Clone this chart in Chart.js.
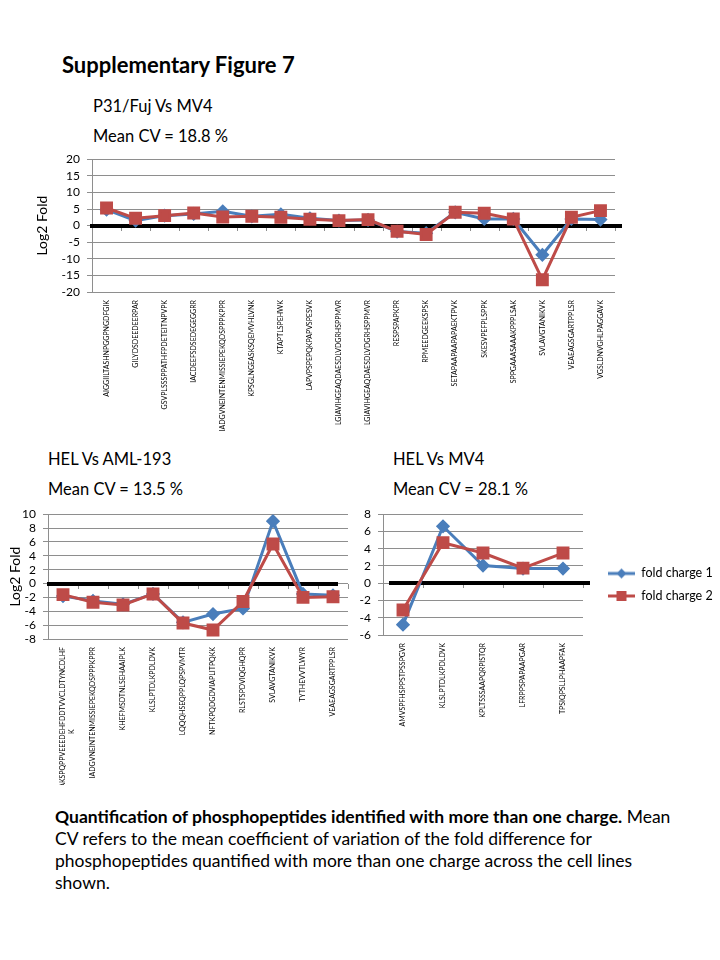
<!DOCTYPE html>
<html>
<head>
<meta charset="utf-8">
<script src="https://cdn.jsdelivr.net/npm/chart.js@4.4.1/dist/chart.umd.min.js"></script>
<style>
  body { margin: 0; background: #fff; }
  #page { position: relative; width: 720px; height: 960px; overflow: hidden; font-family: Lato, "Open Sans", sans-serif; color: #000; }
  .txt { position: absolute; white-space: nowrap; line-height: 1; }
  .box { position: absolute; }
  .cap { position: absolute; left: 55px; top: 806px; font-size: 17.5px; line-height: 22px; white-space: nowrap; }
</style>
</head>
<body>
<div id="page">
  <div class="txt" style="left:62px;top:54px;font-size:22px;font-weight:bold;">Supplementary Figure 7</div>
  <div class="txt" style="left:93px;top:98px;font-size:16.5px;">P31/Fuj Vs MV4</div>
  <div class="txt" style="left:93px;top:128px;font-size:16.5px;">Mean CV = 18.8 %</div>
  <div class="txt" style="left:48px;top:451px;font-size:16.5px;">HEL Vs AML-193</div>
  <div class="txt" style="left:48px;top:481px;font-size:16.5px;">Mean CV = 13.5 %</div>
  <div class="txt" style="left:393px;top:451px;font-size:16.5px;">HEL Vs MV4</div>
  <div class="txt" style="left:393px;top:481px;font-size:16.5px;">Mean CV = 28.1 %</div>

  <div class="box" style="left:20px;top:145px;"><canvas id="topChart" width="620" height="295"></canvas></div>
  <div class="box" style="left:0px;top:500px;"><canvas id="amlChart" width="360" height="285"></canvas></div>
  <div class="box" style="left:360px;top:500px;"><canvas id="mv4Chart" width="400" height="230"></canvas></div>

  <div class="cap"><b>Quantification of phosphopeptides identified with more than one charge.</b> Mean<br>CV refers to the mean coefficient of variation of the fold difference for<br>phosphopeptides quantified with more than one charge across the cell lines<br>shown.</div>
</div>
<script>
// P31/Fuj vs MV4
const topLabels = ['AIGGIILTASHNPGGPNGDFGIK', 'GILYDSDEEDEERPAR', 'GSVPLSSSPPATHFPDETEITNPVPK',
  'IACDEEFSDSEDEGEGGRR', 'IADGVNEINTENMISSIEPEKQDSPPPKPPR', 'KPSGLNGEASKSQEMVHLVNK', 'KTAPTLSPEHWK',
  'LAPVPSPEPQKPAPVSPESVK', 'LGIAVIHGEAQDAESDLVDGRHSPPMVR', 'LGIAVIHGEAQDAESDLVDGRHSPPMVR', 'RESPSPAPKPR',
  'RPMEEDGEEKSPSK', 'SETAPAAPAAPAPAEKTPVK', 'SKESVPEFPLSPPK', 'SPPGAAASAAAKPPPLSAK', 'SVLAVGTANIKVK',
  'VEAEAGSGARTPPLSR', 'VGSLDNVGHLPAGGAVK'];
const topCharge1 = [4.8, 1.5, 3.0, 3.5, 4.3, 2.8, 3.4, 2.2, 1.5, 1.7, -1.8, -2.3, 4.0, 2.0, 2.0, -8.8, 2.0, 1.8];
const topCharge2 = [5.3, 2.2, 3.0, 3.8, 2.6, 2.8, 2.5, 1.9, 1.5, 1.8, -1.7, -2.7, 4.0, 3.7, 2.0, -16.3, 2.5, 4.5];

// HEL vs AML-193
const amlLabels = [['AKSPQPPVEEEDEHFDDTVVCLDTYNCDLHF', 'K' + ' '.repeat(46)], 'IADGVNEINTENMISSIEPEKQDSPPPKPPR',
  'KHEFMSDTNLSEHAAIPLK', 'KLSLPTDLKPDLDVK', 'LQQQHSEQPPLQPSPVMTR', 'NFTKPQDGDVIAPLITPQKK', 'RLSTSPDVIQGHQPR',
  'SVLAVGTANIKVK', 'TYTHEVVTLWYR', 'VEAEAGSGARTPPLSR'];
const amlCharge1 = [-1.8, -2.5, -3.0, -1.5, -5.6, -4.4, -3.6, 9.0, -1.5, -1.7];
const amlCharge2 = [-1.6, -2.7, -3.1, -1.5, -5.7, -6.7, -2.6, 5.7, -2.0, -1.9];

// HEL vs MV4
const mv4Labels = ['AMVSPFHSPPSTPSSPGVR', 'KLSLPTDLKPDLDVK', 'KPLTSSSAAPQRPISTQR', 'LFRPPSPAPAAPGAR', 'TPSIQPSLLPHAAPFAK'];
const mv4Charge1 = [-4.8, 6.6, 2.05, 1.7, 1.7];
const mv4Charge2 = [-3.1, 4.7, 3.5, 1.75, 3.5];

const seriesNames = ['fold charge 1', 'fold charge 2'];
const BLUE = '#4a7ebb';
const RED = '#be4b48';
const GRID = '#8e8e8e';

Chart.defaults.font.family = 'Lato, "Open Sans", sans-serif';
Chart.defaults.color = '#000';

// thick black line at zero plus the small category ticks on it
const zeroLine = {
  id: 'zeroLine',
  beforeDatasetsDraw(chart, args, opts) {
    const {ctx, chartArea, scales: {x, y}} = chart;
    const y0 = Math.round(y.getPixelForValue(0));
    const n = chart.data.labels.length;
    ctx.save();
    ctx.strokeStyle = GRID;
    ctx.lineWidth = 1;
    for (let i = 0; i <= n; i++) {
      const px = Math.round(x.getPixelForValue(i - 0.5)) + 0.5;
      ctx.beginPath();
      ctx.moveTo(px, y0);
      ctx.lineTo(px, y0 + 5);
      ctx.stroke();
    }
    ctx.strokeStyle = '#000';
    ctx.lineWidth = 4;
    ctx.beginPath();
    ctx.moveTo(chartArea.left + opts.from, y0);
    ctx.lineTo(chartArea.right + opts.to, y0);
    ctx.stroke();
    ctx.restore();
  }
};

function legendIcon(color, shape) {
  const c = document.createElement('canvas');
  c.width = 42;
  c.height = 14;
  const g = c.getContext('2d');
  g.strokeStyle = color;
  g.fillStyle = color;
  g.lineWidth = 3;
  g.beginPath();
  g.moveTo(15, 7);
  g.lineTo(42, 7);
  g.stroke();
  g.beginPath();
  if (shape === 'diamond') {
    g.moveTo(28.5, 2); g.lineTo(33.5, 7); g.lineTo(28.5, 12); g.lineTo(23.5, 7);
  } else {
    g.rect(23.5, 2, 10, 10);
  }
  g.fill();
  return c;
}

function makeChart(id, labels, s1, s2, cfg) {
  const yTitle = cfg.yTitle
    ? {display: true, text: 'Log2 Fold', font: {size: 14}, padding: {top: cfg.yTitle, bottom: 0}}
    : {display: false};
  return new Chart(document.getElementById(id), {
    type: 'line',
    data: {
      labels: labels,
      datasets: [
        {label: seriesNames[0], data: s1, borderColor: BLUE, backgroundColor: BLUE, borderWidth: 3,
          pointStyle: 'rectRot', pointRadius: 5, pointBackgroundColor: BLUE, pointBorderColor: BLUE, order: 1},
        {label: seriesNames[1], data: s2, borderColor: RED, backgroundColor: RED, borderWidth: 3,
          pointStyle: 'rect', pointRadius: 7, pointBackgroundColor: RED, pointBorderColor: RED, order: 0}
      ]
    },
    options: {
      responsive: false,
      animation: false,
      layout: {padding: cfg.padding},
      plugins: {
        tooltip: {enabled: false},
        zeroLine: cfg.zero,
        legend: cfg.legend || {display: false}
      },
      scales: {
        x: {
          offset: true,
          grid: {display: false, drawTicks: false},
          border: {display: false},
          ticks: {autoSkip: false, maxRotation: 90, minRotation: 90, padding: 8, font: {size: 7}},
          afterFit(scale) { scale.height = cfg.xHeight; }
        },
        y: {
          min: cfg.min, max: cfg.max,
          grid: {color: GRID, tickLength: 5},
          border: {color: GRID},
          ticks: {stepSize: cfg.step, autoSkip: false, padding: 7, font: {size: 12}},
          title: yTitle,
          afterFit(scale) { scale.width = cfg.yWidth; }
        }
      }
    },
    plugins: [zeroLine]
  });
}

makeChart('topChart', topLabels, topCharge1, topCharge2, {
  min: -20, max: 20, step: 5, yWidth: 72, xHeight: 148, yTitle: 14,
  padding: {top: 13, right: 25, left: 0, bottom: 0},
  zero: {from: -2, to: 7}
});

makeChart('amlChart', amlLabels, amlCharge1, amlCharge2, {
  min: -8, max: 10, step: 2, yWidth: 48, xHeight: 146, yTitle: 7,
  padding: {top: 11, right: 12, left: 0, bottom: 0},
  zero: {from: -1, to: -10}
});

const icons = [legendIcon(BLUE, 'diamond'), legendIcon(RED, 'square')];
const mv4 = makeChart('mv4Chart', mv4Labels, mv4Charge1, mv4Charge2, {
  min: -6, max: 8, step: 2, yWidth: 23, xHeight: 95, yTitle: 0,
  padding: {top: 10, right: 30, left: 0, bottom: 0},
  zero: {from: 6, to: 7},
  legend: {
    position: 'right', align: 'start', fullSize: false, maxWidth: 220,
    title: {display: true, text: ' ', font: {size: 10}, padding: {top: 0, bottom: 31}},
    labels: {
      usePointStyle: true, pointStyleWidth: 42, boxHeight: 14, padding: 10, font: {size: 12.5},
      generateLabels(chart) {
        const items = Chart.defaults.plugins.legend.labels.generateLabels(chart);
        items.sort((a, b) => a.datasetIndex - b.datasetIndex);
        items.forEach(it => { it.pointStyle = icons[it.datasetIndex]; });
        return items;
      }
    }
  }
});
// keep the plot right edge where the reference has it
mv4.options.layout.padding.right += mv4.chartArea.right - 223;
mv4.update('none');
</script>
</body>
</html>
